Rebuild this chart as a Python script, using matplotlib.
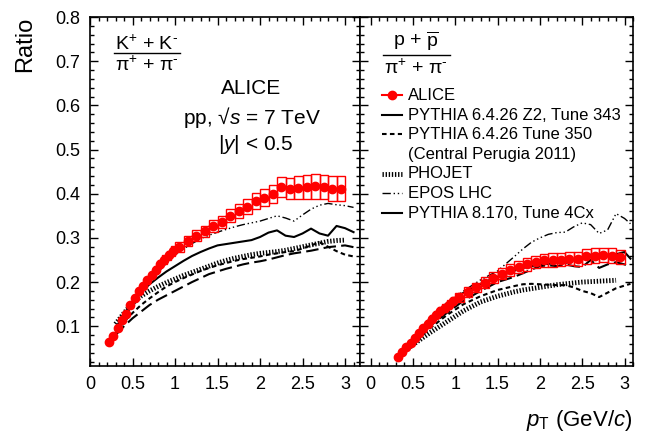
import numpy as np
import matplotlib
matplotlib.use("Agg")
import matplotlib.pyplot as plt
from matplotlib.lines import Line2D

plt.rcParams['font.family'] = ['Liberation Sans', 'DejaVu Sans']
plt.rcParams['mathtext.fontset'] = 'custom'
plt.rcParams['mathtext.rm'] = 'Liberation Sans'
plt.rcParams['mathtext.it'] = 'Liberation Sans:italic'

# ---- data: K/pi ----
kpi_x = [0.225, 0.275, 0.325, 0.375, 0.425, 0.475, 0.525, 0.575, 0.625, 0.675,
         0.725, 0.775, 0.825, 0.875, 0.925, 0.975,
         1.05, 1.15, 1.25, 1.35, 1.45, 1.55, 1.65, 1.75, 1.85, 1.95,
         2.05, 2.15, 2.25, 2.35, 2.45, 2.55, 2.65, 2.75, 2.85, 2.95]
kpi_y = [0.064, 0.079, 0.097, 0.113, 0.127, 0.147, 0.163, 0.180, 0.192, 0.204,
         0.215, 0.228, 0.240, 0.251, 0.261, 0.270,
         0.279, 0.293, 0.305, 0.315, 0.327, 0.336, 0.350, 0.360, 0.370, 0.383,
         0.391, 0.400, 0.415, 0.411, 0.414, 0.415, 0.417, 0.415, 0.411, 0.411]
kpi_sys = [0.003, 0.003, 0.004, 0.004, 0.005, 0.006, 0.006, 0.007, 0.007, 0.008,
           0.008, 0.009, 0.009, 0.010, 0.010, 0.011,
           0.012, 0.012, 0.013, 0.013, 0.014, 0.014, 0.015, 0.016, 0.017, 0.018,
           0.019, 0.020, 0.022, 0.024, 0.026, 0.027, 0.028, 0.028, 0.028, 0.028]
kpi_w = [0.05] * 16 + [0.1] * 20

# ---- data: p/pi ----
ppi_x = [0.325, 0.375, 0.425, 0.475, 0.525, 0.575, 0.625, 0.675, 0.725, 0.775,
         0.825, 0.875, 0.925, 0.975,
         1.05, 1.15, 1.25, 1.35, 1.45, 1.55, 1.65, 1.75, 1.85, 1.95,
         2.05, 2.15, 2.25, 2.35, 2.45, 2.55, 2.65, 2.75, 2.85, 2.95]
ppi_y = [0.031, 0.041, 0.052, 0.063, 0.073, 0.084, 0.095, 0.106, 0.117, 0.126,
         0.134, 0.142, 0.149, 0.157,
         0.166, 0.177, 0.188, 0.199, 0.210, 0.219, 0.227, 0.234, 0.240, 0.246,
         0.249, 0.250, 0.251, 0.253, 0.252, 0.258, 0.260, 0.262, 0.260, 0.257]
ppi_sys = [0.004, 0.004, 0.005, 0.005, 0.006, 0.006, 0.007, 0.007, 0.008, 0.008,
           0.009, 0.009, 0.010, 0.010,
           0.010, 0.011, 0.011, 0.012, 0.012, 0.013, 0.013, 0.014, 0.014, 0.014,
           0.015, 0.015, 0.015, 0.015, 0.016, 0.016, 0.016, 0.016, 0.016, 0.016]
ppi_w = [0.05] * 14 + [0.1] * 20

# ---- models, K/pi ----
mc_x = [0.3, 0.4, 0.5, 0.6, 0.7, 0.8, 0.9, 1.0, 1.1, 1.2, 1.3, 1.4, 1.5, 1.6, 1.7,
        1.8, 1.9, 2.0, 2.1, 2.2, 2.3, 2.4, 2.5, 2.6, 2.7, 2.8, 2.9, 3.0, 3.1]
k_z2 = [0.095, 0.128, 0.155, 0.177, 0.195, 0.210, 0.224, 0.236, 0.248, 0.259, 0.268, 0.276,
        0.283, 0.286, 0.289, 0.292, 0.295, 0.302, 0.312, 0.317, 0.305, 0.302, 0.310, 0.321,
        0.310, 0.305, 0.327, 0.322, 0.313]
k_p350 = [0.085, 0.110, 0.130, 0.148, 0.163, 0.177, 0.190, 0.200, 0.209, 0.217, 0.225, 0.232,
          0.238, 0.243, 0.248, 0.252, 0.255, 0.258, 0.262, 0.265, 0.268, 0.270, 0.276, 0.283,
          0.290, 0.280, 0.270, 0.262, 0.258]
k_phojet = [0.105, 0.130, 0.152, 0.168, 0.180, 0.190, 0.199, 0.207, 0.215, 0.222, 0.229, 0.236,
            0.243, 0.249, 0.254, 0.258, 0.262, 0.265, 0.267, 0.269, 0.272, 0.276, 0.280, 0.284,
            0.288, 0.292, 0.294, 0.295]
k_epos = [0.090, 0.120, 0.148, 0.175, 0.200, 0.222, 0.243, 0.262, 0.275, 0.287, 0.298, 0.306,
          0.313, 0.319, 0.325, 0.330, 0.334, 0.338, 0.344, 0.350, 0.345, 0.338, 0.352, 0.365,
          0.374, 0.378, 0.375, 0.373, 0.369]
k_p8 = [0.080, 0.100, 0.118, 0.133, 0.148, 0.160, 0.170, 0.180, 0.190, 0.200, 0.209, 0.218,
        0.224, 0.230, 0.235, 0.240, 0.244, 0.247, 0.251, 0.256, 0.261, 0.265, 0.268, 0.271,
        0.275, 0.279, 0.281, 0.283, 0.279]

# ---- models, p/pi ----
mcp_x = [0.35, 0.5, 0.7, 0.9, 1.1, 1.3, 1.5, 1.7, 1.8, 1.9, 2.0, 2.1, 2.2, 2.3, 2.4, 2.5,
         2.6, 2.7, 2.8, 2.9, 3.0, 3.07]
p_z2 = [0.035, 0.072, 0.117, 0.152, 0.176, 0.196, 0.212, 0.226, 0.232, 0.236, 0.240, 0.241,
        0.245, 0.243, 0.250, 0.255, 0.262, 0.260, 0.262, 0.263, 0.268, 0.253]
p_p350 = [0.035, 0.062, 0.095, 0.125, 0.150, 0.168, 0.182, 0.191, 0.195, 0.196, 0.195, 0.194,
          0.193, 0.193, 0.188, 0.180, 0.175, 0.166, 0.176, 0.186, 0.192, 0.196]
p_phojet = [0.036, 0.058, 0.085, 0.110, 0.135, 0.155, 0.168, 0.178, 0.182, 0.185, 0.188, 0.191,
            0.194, 0.196, 0.198, 0.200, 0.201, 0.202, 0.203, 0.204]
p_epos = [0.035, 0.068, 0.112, 0.150, 0.180, 0.205, 0.225, 0.258, 0.275, 0.290, 0.300, 0.308,
          0.312, 0.313, 0.325, 0.334, 0.330, 0.310, 0.318, 0.355, 0.344, 0.332]
p_p8 = [0.038, 0.065, 0.100, 0.130, 0.158, 0.180, 0.200, 0.212, 0.220, 0.228, 0.236, 0.238,
        0.236, 0.240, 0.236, 0.234, 0.250, 0.232, 0.240, 0.245, 0.240, 0.234]

styles = {
    'z2': dict(ls='-', lw=1.5),
    'p350': dict(ls=(0, (2.2, 1.6)), lw=1.5),
    'phojet': dict(ls=(0, (0.28, 0.36)), lw=3.5),
    'epos': dict(ls=(0, (6, 2, 1, 2, 1, 2, 1, 2)), lw=1.0),
    'p8': dict(ls=(0, (6, 2.5)), lw=1.5),
}

fig = plt.figure(figsize=(6.46, 4.36), dpi=100)
W, H = 646, 436


def fx(px):
    return px / W


def fy(py):
    return 1 - py / H


axL = fig.add_axes([fx(90), fy(366), (360 - 90) / W, (366 - 17) / H])
axR = fig.add_axes([fx(360), fy(366), (633 - 360) / W, (366 - 17) / H])


def draw(ax, x, y, sys, w, models):
    for mx, my, key in models:
        ax.plot(mx[:len(my)], my, color='black', **styles[key])
    y = np.array(y)
    sys = np.array(sys)
    ax.bar(x, 2 * sys, bottom=y - sys, width=w, fill=False, edgecolor='red', lw=1.0, zorder=4)
    ax.plot(x, y, 'o', color='red', ms=6, zorder=5)


draw(axL, kpi_x, kpi_y, kpi_sys, kpi_w,
     [(mc_x, k_phojet, 'phojet'), (mc_x, k_p8, 'p8'), (mc_x, k_p350, 'p350'),
      (mc_x, k_z2, 'z2'), (mc_x, k_epos, 'epos')])
draw(axR, ppi_x, ppi_y, ppi_sys, ppi_w,
     [(mcp_x, p_phojet, 'phojet'), (mcp_x, p_p8, 'p8'), (mcp_x, p_p350, 'p350'),
      (mcp_x, p_z2, 'z2'), (mcp_x, p_epos, 'epos')])

axL.set_xlim(0, 3.176)
axR.set_xlim(-0.124, 3.088)
for ax in (axL, axR):
    ax.set_ylim(0.01, 0.8)
    ax.set_xticks(np.arange(0, 3.01, 0.5))
    ax.set_xticks(np.arange(0, 3.11, 0.1), minor=True)
    ax.set_yticks(np.arange(0.1, 0.81, 0.1))
    ax.set_yticks(np.arange(0.02, 0.801, 0.02), minor=True)
    ax.set_xticklabels(['0', '0.5', '1', '1.5', '2', '2.5', '3'])
    ax.tick_params(which='both', direction='in', top=True, right=True, width=1.0,
                   labelsize=13, pad=7)
    ax.tick_params(which='major', length=6)
    ax.tick_params(which='minor', length=3)
    for s in ax.spines.values():
        s.set_linewidth(1.2)
axL.set_yticklabels(['0.1', '0.2', '0.3', '0.4', '0.5', '0.6', '0.7', '0.8'])
axR.tick_params(labelleft=False)

fig.text(fx(25), fy(17), 'Ratio', rotation=90, ha='center', va='top', fontsize=17)
fig.text(fx(632), fy(420), r'$p_{\mathrm{T}}$ (GeV/$c$)', ha='right', va='center', fontsize=16)

# fraction labels
fig.text(fx(147), fy(44), r'K$^{+}$ + K$^{\text{-}}$', ha='center', va='center', fontsize=14)
fig.add_artist(Line2D([fx(114), fx(180)], [fy(53), fy(53)], color='black', lw=1.0,
                      transform=fig.transFigure))
fig.text(fx(147), fy(65), r'π$^{+}$ + π$^{\text{-}}$', ha='center', va='center', fontsize=14)

fig.text(fx(416), fy(41), r'p + $\overline{\mathrm{p}}$', ha='center', va='center', fontsize=14)
fig.add_artist(Line2D([fx(383), fx(450)], [fy(55), fy(55)], color='black', lw=1.0,
                      transform=fig.transFigure))
fig.text(fx(416), fy(68), r'π$^{+}$ + π$^{\text{-}}$', ha='center', va='center', fontsize=14)

fig.text(fx(251), fy(88), 'ALICE', ha='center', va='center', fontsize=15)
fig.text(fx(252), fy(117), r'pp, √$s$ = 7 TeV', ha='center', va='center', fontsize=15)
fig.text(fx(256), fy(145), r'|$y$| < 0.5', ha='center', va='center', fontsize=15)

# legend
leg_labels = ['ALICE', 'PYTHIA 6.4.26 Z2, Tune 343', 'PYTHIA 6.4.26 Tune 350',
              '(Central Perugia 2011)', 'PHOJET', 'EPOS LHC', 'PYTHIA 8.170, Tune 4Cx']
leg_keys = ['data', 'z2', 'p350', None, 'phojet', 'epos', 'p8']
leg_rows = [95, 115, 134, 154, 174, 193, 213]
for lab, key, row in zip(leg_labels, leg_keys, leg_rows):
    fig.text(fx(408), fy(row), lab, ha='left', va='center', fontsize=12)
    if key == 'data':
        fig.add_artist(Line2D([fx(382), fx(402)], [fy(row), fy(row)], color='red', lw=1.5,
                              transform=fig.transFigure))
        fig.add_artist(Line2D([fx(392)], [fy(row)], color='red', marker='o', ms=6,
                              transform=fig.transFigure))
    elif key is not None:
        st = dict(styles[key])
        if key == 'p8':
            st['ls'] = '-'  # the long dash is longer than the legend key
        fig.add_artist(Line2D([fx(382), fx(402)], [fy(row), fy(row)], color='black',
                              transform=fig.transFigure, **st))

fig.savefig('out.png', dpi=100)
